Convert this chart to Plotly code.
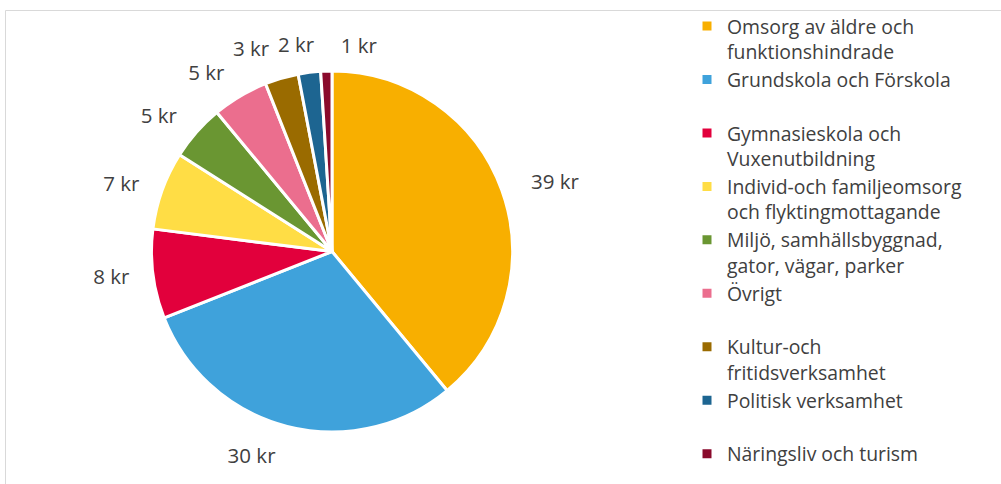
import plotly.graph_objects as go

categories = [
    "Omsorg av äldre och<br>funktionshindrade",
    "Grundskola och Förskola<br> ",
    "Gymnasieskola och<br>Vuxenutbildning",
    "Individ-och familjeomsorg<br>och flyktingmottagande",
    "Miljö, samhällsbyggnad,<br>gator, vägar, parker",
    "Övrigt<br> ",
    "Kultur-och<br>fritidsverksamhet",
    "Politisk verksamhet<br> ",
    "Näringsliv och turism",
]
values = [39, 30, 8, 7, 5, 5, 3, 2, 1]
colors = ["#F8AF00", "#3FA2DB", "#E2003C", "#FFDD45", "#6A9632",
          "#EB6E8E", "#9A6B00", "#1D6591", "#8A0A2C"]

W, H = 1001, 484
FONT = "Open Sans"
TXT = "#404040"
cx, cy, r = 332, 251.5, 180.5


def dom(rad):
    return dict(x=[(cx - rad) / W, (cx + rad) / W],
                y=[(H - cy - rad) / H, (H - cy + rad) / H])


common = dict(labels=categories, values=values, sort=False, direction="clockwise")

fig = go.Figure()
# visible pie
fig.add_trace(go.Pie(
    **common,
    rotation=0,
    marker=dict(colors=colors, line=dict(color="white", width=3)),
    textinfo="none",
    domain=dom(r),
    showlegend=True,
    hoverinfo="label+value",
))

# value labels drawn by transparent helper pies
# (split into groups so that plotly does not push crowded labels apart)
label_groups = [
    ([0], 204, 0),
    ([1, 2, 3, 4, 5], 196.5, 0),
    ([6], 198, 0),
    ([7], 194, 4.2),
    ([8], 192.5, 2.3),
]
for idx, rad, rot in label_groups:
    fig.add_trace(go.Pie(
        **common,
        rotation=rot,
        marker=dict(colors=["rgba(0,0,0,0)"] * len(values), line=dict(width=0)),
        texttemplate="%{value} kr",
        textposition=["outside" if i in idx else "none" for i in range(len(values))],
        textfont=dict(family=FONT, size=20.5, color=TXT),
        domain=dom(rad),
        showlegend=False,
        hoverinfo="skip",
    ))

fig.update_layout(
    width=W, height=H,
    margin=dict(l=0, r=0, t=0, b=0),
    paper_bgcolor="white",
    showlegend=True,
    legend=dict(
        x=687 / W, xanchor="left", y=1 - 7 / H, yanchor="top",
        valign="top",
        font=dict(family=FONT, size=19.4, color=TXT),
        bgcolor="rgba(0,0,0,0)",
    ),
    shapes=[dict(type="rect", xref="paper", yref="paper",
                 x0=5.5 / W, x1=1.01, y0=-0.05, y1=1 - 10.5 / H,
                 line=dict(color="#D9D9D9", width=1), fillcolor="rgba(0,0,0,0)")],
)

fig.write_html("out.html",
               config={"displayModeBar": False},
               post_script="document.body.style.margin='0';document.body.style.overflow='hidden';")
